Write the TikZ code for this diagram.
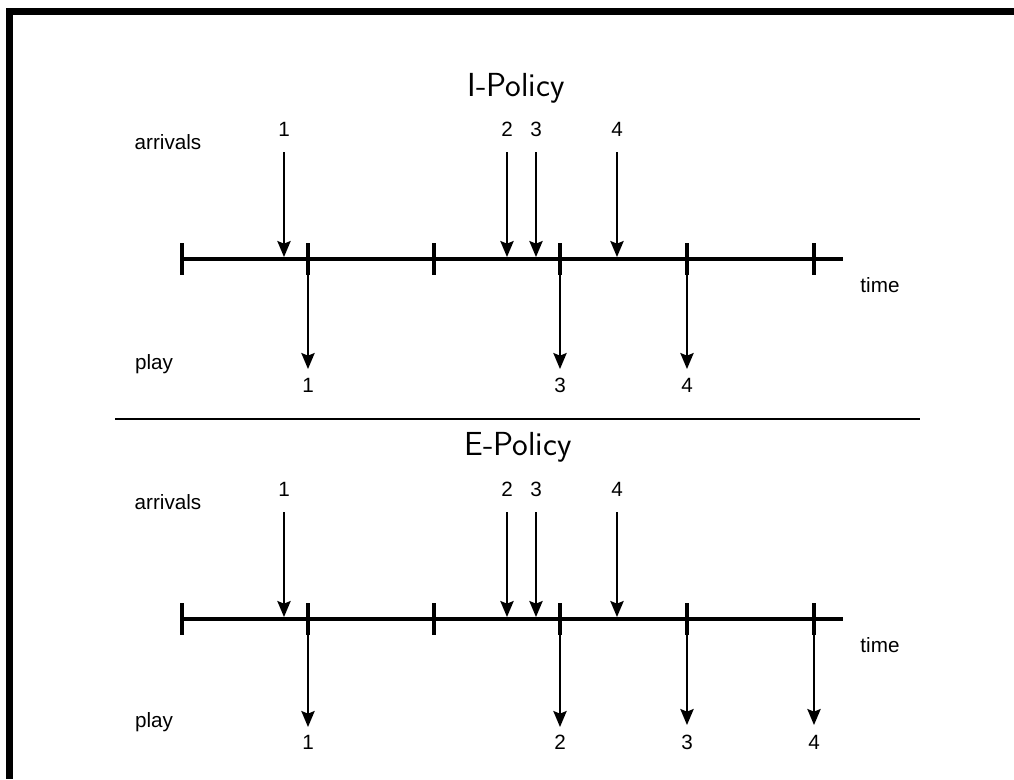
\documentclass[tikz,border=0pt]{standalone}
\usepackage{fontspec}
\setmainfont{Liberation Sans}
\usetikzlibrary{arrows.meta}
\begin{document}
\begin{tikzpicture}[x=0.75pt,y=-0.75pt,
  lbl/.style={inner sep=0pt,font=\fontsize{15.5}{18}\selectfont},
  ttl/.style={inner sep=0pt,font=\sffamily\fontsize{25}{29}\selectfont},
  axis/.style={line width=2.3pt},
  tick/.style={line width=3pt},
  arr/.style={line width=1.4pt,-{Stealth[length=12pt,width=10pt,inset=2pt]}},
  sep/.style={line width=1.5pt}]
\useasboundingbox (0,0) rectangle (1014,779);
% frame
\fill (6,8) rectangle (13,779);
\fill (6,8) rectangle (1014,15);
% separator
\coordinate (sepL) at (115,419);
\coordinate (sepR) at (920,419);
\draw[sep] (sepL) -- (sepR);
% ---------- I-Policy ----------
\node[ttl] (t1) at (516,88) {I-Policy};
\node[lbl] (arr1) at (168,142) {arrivals};
\node[lbl] (play1) at (154,364) {play};
\node[lbl] (time1) at (880,285) {time};
\coordinate (a1s) at (182,259);
\coordinate (a1e) at (843,259);
\draw[axis] (a1s) -- (a1e);
\foreach \x [count=\i] in {182,308,434,560,687,814}{
  \coordinate (k1\i t) at (\x,243);
  \coordinate (k1\i b) at (\x,275);
  \draw[tick] (k1\i t) -- (k1\i b);
}
\foreach \x/\n in {284/1,507/2,536/3,617/4}{
  \node[lbl] (ia\n) at (\x,129) {\n};
  \coordinate (ias\n) at (\x,152);
  \coordinate (iae\n) at (\x,257);
  \draw[arr] (ias\n) -- (iae\n);
}
\foreach \x/\n in {308/1,560/3,687/4}{
  \coordinate (ips\n) at (\x,259);
  \coordinate (ipe\n) at (\x,369);
  \draw[arr] (ips\n) -- (ipe\n);
  \node[lbl] (ip\n) at (\x,385) {\n};
}
% ---------- E-Policy ----------
\node[ttl] (t2) at (518,447) {E-Policy};
\node[lbl] (arr2) at (168,502) {arrivals};
\node[lbl] (play2) at (154,722) {play};
\node[lbl] (time2) at (880,645) {time};
\coordinate (a2s) at (182,619);
\coordinate (a2e) at (843,619);
\draw[axis] (a2s) -- (a2e);
\foreach \x [count=\i] in {182,308,434,560,687,814}{
  \coordinate (k2\i t) at (\x,603);
  \coordinate (k2\i b) at (\x,635);
  \draw[tick] (k2\i t) -- (k2\i b);
}
\foreach \x/\n in {284/1,507/2,536/3,617/4}{
  \node[lbl] (ea\n) at (\x,489) {\n};
  \coordinate (eas\n) at (\x,512);
  \coordinate (eae\n) at (\x,617);
  \draw[arr] (eas\n) -- (eae\n);
}
\foreach \x/\n/\y in {308/1/727,560/2/727,687/3/725,814/4/725}{
  \coordinate (eps\n) at (\x,619);
  \coordinate (epe\n) at (\x,\y);
  \draw[arr] (eps\n) -- (epe\n);
  \node[lbl] (ep\n) at (\x,742) {\n};
}
\end{tikzpicture}
\end{document}
